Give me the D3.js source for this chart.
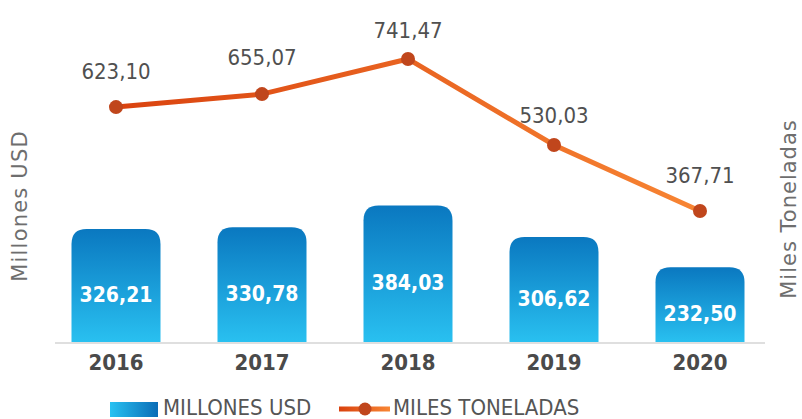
<!DOCTYPE html>
<html>
<head>
<meta charset="utf-8">
<script src="https://cdn.jsdelivr.net/npm/d3@7"></script>
<style>
  body { margin: 0; background: #fff; }
  svg { display: block; font-family: 'DejaVu Sans', sans-serif; }
  .cond { font-family: 'DejaVu Sans Condensed', 'DejaVu Sans', sans-serif; font-stretch: condensed; }
</style>
</head>
<body>
<script>
(function () {
  var years = ['2016', '2017', '2018', '2019', '2020'];
  var usd = [326.21, 330.78, 384.03, 306.62, 232.50];
  var tons = [623.10, 655.07, 741.47, 530.03, 367.71];
  var usdLabels = ['326,21', '330,78', '384,03', '306,62', '232,50'];
  var tonLabels = ['623,10', '655,07', '741,47', '530,03', '367,71'];

  var width = 802,
    height = 419,
    baseY = 342,
    barW = 89,
    r = 15;

  var svg = d3.select('body')
    .append('svg')
    .attr('width', width)
    .attr('height', height);

  var defs = svg.append('defs');

  var barGrad = defs.append('linearGradient')
    .attr('id', 'barGrad')
    .attr('x1', 0).attr('y1', 0).attr('x2', 0).attr('y2', 1);
  barGrad.append('stop').attr('offset', '0%').attr('stop-color', '#0a78c0');
  barGrad.append('stop').attr('offset', '100%').attr('stop-color', '#29c0f0');

  var legGrad = defs.append('linearGradient')
    .attr('id', 'legGrad')
    .attr('x1', 0).attr('y1', 0).attr('x2', 1).attr('y2', 0);
  legGrad.append('stop').attr('offset', '0%').attr('stop-color', '#29c2f2');
  legGrad.append('stop').attr('offset', '100%').attr('stop-color', '#0a6cb6');

  var lineGrad = defs.append('linearGradient')
    .attr('id', 'lineGrad')
    .attr('gradientUnits', 'userSpaceOnUse')
    .attr('x1', 100).attr('y1', 0).attr('x2', 710).attr('y2', 0);
  lineGrad.append('stop').attr('offset', '0%').attr('stop-color', '#d9410e');
  lineGrad.append('stop').attr('offset', '100%').attr('stop-color', '#f88634');

  var legLineGrad = defs.append('linearGradient')
    .attr('id', 'legLineGrad')
    .attr('x1', 0).attr('y1', 0).attr('x2', 1).attr('y2', 0);
  legLineGrad.append('stop').attr('offset', '0%').attr('stop-color', '#d9410e');
  legLineGrad.append('stop').attr('offset', '100%').attr('stop-color', '#f88634');

  var x = d3.scalePoint()
    .domain(years)
    .range([43, 773])
    .padding(0.5);

  var yBar = d3.scaleLinear()
    .domain([50, 450])
    .range([baseY, baseY - 400 * 0.409]);

  var yLine = d3.scaleLinear()
    .domain([50, 750])
    .range([340.2, 55.5]);

  // baseline
  svg.append('line')
    .attr('x1', 55).attr('x2', 765)
    .attr('y1', baseY + 1).attr('y2', baseY + 1)
    .attr('stroke', '#d4d4d4')
    .attr('stroke-width', 1.5);

  function barPath(d, i) {
    var x0 = x(years[i]) - barW / 2,
      x1 = x0 + barW,
      top = yBar(d);
    return 'M' + x0 + ',' + baseY +
      'V' + (top + r) +
      'Q' + x0 + ',' + top + ' ' + (x0 + r) + ',' + top +
      'H' + (x1 - r) +
      'Q' + x1 + ',' + top + ' ' + x1 + ',' + (top + r) +
      'V' + baseY + 'Z';
  }

  svg.selectAll('path.bar')
    .data(usd)
    .enter()
    .append('path')
    .attr('class', 'bar')
    .attr('d', barPath)
    .attr('fill', 'url(#barGrad)');

  svg.selectAll('text.barlabel')
    .data(usd)
    .enter()
    .append('text')
    .attr('class', 'barlabel cond')
    .attr('x', function (d, i) { return x(years[i]); })
    .attr('y', function (d) { return (yBar(d) + baseY) / 2 + 16; })
    .attr('text-anchor', 'middle')
    .attr('fill', '#fff')
    .attr('font-size', 21)
    .attr('font-weight', 'bold')
    .text(function (d, i) { return usdLabels[i]; });

  // year labels
  svg.selectAll('text.year')
    .data(years)
    .enter()
    .append('text')
    .attr('class', 'year cond')
    .attr('x', function (d) { return x(d); })
    .attr('y', 370)
    .attr('text-anchor', 'middle')
    .attr('fill', '#4a4a4a')
    .attr('font-size', 22)
    .attr('font-weight', 'bold')
    .text(function (d) { return d; });

  // line
  var line = d3.line()
    .x(function (d, i) { return x(years[i]); })
    .y(function (d) { return yLine(d); });

  svg.append('path')
    .datum(tons)
    .attr('d', line)
    .attr('fill', 'none')
    .attr('stroke', 'url(#lineGrad)')
    .attr('stroke-width', 5);

  svg.selectAll('circle.pt')
    .data(tons)
    .enter()
    .append('circle')
    .attr('class', 'pt')
    .attr('cx', function (d, i) { return x(years[i]); })
    .attr('cy', function (d) { return yLine(d); })
    .attr('r', 7)
    .attr('fill', '#c0461c');

  var labelOff = [28, 29, 21, 22, 28];
  svg.selectAll('text.linelabel')
    .data(tons)
    .enter()
    .append('text')
    .attr('class', 'linelabel cond')
    .attr('x', function (d, i) { return x(years[i]); })
    .attr('y', function (d, i) { return yLine(d) - labelOff[i]; })
    .attr('text-anchor', 'middle')
    .attr('fill', '#505050')
    .attr('font-size', 22)
    .text(function (d, i) { return tonLabels[i]; });

  // axis titles
  svg.append('text')
    .attr('transform', 'translate(27,206) rotate(-90)')
    .attr('text-anchor', 'middle')
    .attr('fill', '#6e6e6e')
    .attr('font-size', 21)
    .attr('letter-spacing', 1.2)
    .text('Millones USD');

  svg.append('text')
    .attr('transform', 'translate(796,209) rotate(-90)')
    .attr('text-anchor', 'middle')
    .attr('fill', '#6e6e6e')
    .attr('font-size', 21)
    .attr('letter-spacing', 1)
    .text('Miles Toneladas');

  // legend
  var leg = svg.append('g');
  leg.append('rect')
    .attr('x', 110).attr('y', 402)
    .attr('width', 48).attr('height', 15)
    .attr('fill', 'url(#legGrad)');
  leg.append('text')
    .attr('class', 'cond')
    .attr('x', 163).attr('y', 415)
    .attr('fill', '#555')
    .attr('font-size', 22)
    .text('MILLONES USD');
  leg.append('rect')
    .attr('x', 339).attr('y', 406.5)
    .attr('width', 51).attr('height', 5)
    .attr('fill', 'url(#legLineGrad)');
  leg.append('circle')
    .attr('cx', 365).attr('cy', 409)
    .attr('r', 6.5)
    .attr('fill', '#c0461c');
  leg.append('text')
    .attr('class', 'cond')
    .attr('x', 393).attr('y', 415)
    .attr('fill', '#555')
    .attr('font-size', 22)
    .text('MILES TONELADAS');
}());
</script>
</body>
</html>
